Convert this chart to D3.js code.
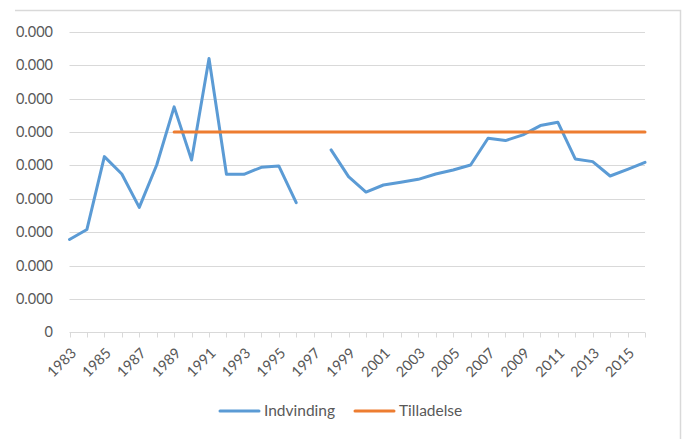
<!DOCTYPE html>
<html>
<head>
<meta charset="utf-8">
<script src="https://cdn.jsdelivr.net/npm/d3@7"></script>
<style>
  body { margin: 0; background: #fff; }
  text { font-family: Lato, "Open Sans", sans-serif; fill: #595959; }
</style>
</head>
<body>
<svg id="svg"></svg>
<script>
// ---------------- data ----------------
var years = d3.range(1983, 2017);
var indvinding = [2.78, 3.08, 5.26, 4.74, 3.74, 5.01, 6.75, 5.16, 8.2, 4.73,
                  4.73, 4.94, 4.98, 3.88, null, 5.46, 4.66, 4.2, 4.41, 4.49,
                  4.58, 4.74, 4.86, 5.01, 5.81, 5.74, 5.91, 6.19, 6.29, 5.19,
                  5.11, 4.68, 4.88, 5.09];
var tilladelse = years.map(y => y >= 1989 ? 6 : null);
var yTicks = d3.range(0, 10);
var seriesNames = ["Indvinding", "Tilladelse"];
var seriesColors = ["#5B9BD5", "#ED7D31"];

var width = 687, height = 439;
var svg = d3.select("#svg").attr("width", width).attr("height", height);

// chart border (top + right visible)
svg.append("path")
    .attr("d", "M15,10.5H680.5V439")
    .attr("fill", "none")
    .attr("stroke", "#d9d9d9")
    .attr("stroke-width", 1.5);

var x = d3.scalePoint().domain(years).range([69.5, 645]);
var y = d3.scaleLinear().domain([0, 9]).range([332.3, 31.7]);

// gridlines
svg.append("g")
    .selectAll("line")
    .data(yTicks.filter(d => d > 0))
    .join("line")
    .attr("x1", 69.5).attr("x2", 645)
    .attr("y1", d => Math.round(y(d)) + 0.5)
    .attr("y2", d => Math.round(y(d)) + 0.5)
    .attr("stroke", "#d9d9d9")
    .attr("stroke-width", 1);

// y labels
svg.append("g")
    .selectAll("text")
    .data(yTicks)
    .join("text")
    .attr("x", 53)
    .attr("y", d => y(d))
    .attr("dy", "0.35em")
    .attr("text-anchor", "end")
    .style("font-size", "14.5px")
    .text(d => d === 0 ? "0" : "0.000");

// x axis
var xAxis = svg.append("g").attr("transform", "translate(0," + 332.5 + ")");
xAxis.append("line")
    .attr("x1", 69.5).attr("x2", 645)
    .attr("stroke", "#d9d9d9").attr("stroke-width", 1);
xAxis.selectAll(".tick")
    .data(years)
    .join("line")
    .attr("x1", d => Math.round(x(d)) + 0.5)
    .attr("x2", d => Math.round(x(d)) + 0.5)
    .attr("y1", 0).attr("y2", 5)
    .attr("stroke", "#d9d9d9");
xAxis.selectAll("text")
    .data(years.filter((d, i) => i % 2 === 0))
    .join("text")
    .attr("transform", d => "translate(" + (x(d) + 4) + ",18) rotate(-45)")
    .attr("text-anchor", "end")
    .attr("dy", "0.35em")
    .style("font-size", "14.5px")
    .text(d => d);

// lines
var line = d3.line()
    .defined(d => d.v != null)
    .x(d => x(d.year))
    .y(d => y(d.v));

[indvinding, tilladelse].forEach((vals, i) => {
    svg.append("path")
        .datum(years.map((yr, j) => ({ year: yr, v: vals[j] })))
        .attr("d", line)
        .attr("fill", "none")
        .attr("stroke", seriesColors[i])
        .attr("stroke-width", 3)
        .attr("stroke-linejoin", "round")
        .attr("stroke-linecap", "round");
});

// legend
var legendX = [220, 355];
var legend = svg.append("g")
    .selectAll("g")
    .data(seriesNames)
    .join("g")
    .attr("transform", (d, i) => "translate(" + legendX[i] + ",411)");
legend.append("line")
    .attr("x1", 0).attr("x2", 39)
    .attr("stroke", (d, i) => seriesColors[i])
    .attr("stroke-width", 3)
    .attr("stroke-linecap", "round");
legend.append("text")
    .attr("x", 44)
    .attr("dy", "0.35em")
    .style("font-size", "15.5px")
    .text(d => d);
</script>
</body>
</html>
